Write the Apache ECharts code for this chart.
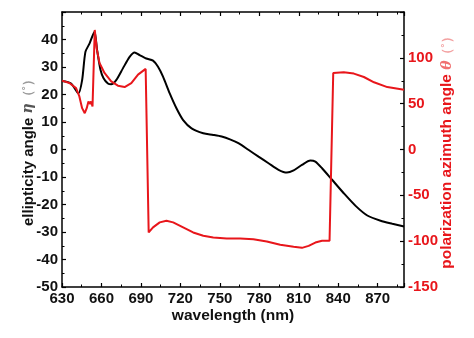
<!DOCTYPE html>
<html>
<head>
<meta charset="utf-8">
<script src="https://cdn.jsdelivr.net/npm/echarts@6/dist/echarts.min.js"></script>
<style>
  html, body { margin: 0; padding: 0; background: #fff; }
  #chart { width: 474px; height: 338px; }
</style>
</head>
<body>
<div id="chart"></div>
<script>
// Ellipticity angle (left axis, degrees) versus wavelength (nm)
const etaWavelength = [630, 636.9, 642.5, 645.3, 647.8, 650.9, 654.7, 656.7, 659.3, 661.6, 664.9, 667.4,
  671.2, 676.3, 681.4, 685.2, 689, 694.1, 699.2, 703, 706.8, 711.9, 717, 722.1, 728.5, 737.4, 745,
  751.4, 757.7, 764.1, 771.7, 779.4, 787, 794.6, 801, 806.1, 812.4, 818.8, 822.6, 827.7, 835.3,
  844.2, 853.2, 862.1, 872.2, 881.1, 890];
const eta = [24.9, 24.0, 20.4, 25.2, 35.5, 38.5, 42.8, 36.1, 28.9, 25.9, 24.0, 23.7,
  25.2, 29.5, 33.7, 35.3, 34.3, 33.1, 32.3, 30.1, 26.5, 20.4, 15.0, 10.7, 7.7, 5.9, 5.3,
  4.7, 3.7, 2.3, -0.1, -2.6, -5.0, -7.4, -8.4, -7.6, -5.6, -4.0, -4.4, -6.8, -11.0,
  -15.9, -20.5, -24.0, -25.9, -27.0, -28.0];

// Polarization azimuth angle (right axis, degrees) versus wavelength (nm)
const thetaWavelength = [630, 635.6, 640.7, 643.2, 645.3, 647.3, 648.8, 650.1, 651.4, 652.1, 653.2,
  654.9, 656.5, 658.5, 662.3, 667.4, 672.5, 677.6, 682.7, 687.8, 693.6, 694.1, 695.9, 699.2,
  704.3, 709.4, 714.5, 722.1, 729.7, 737.4, 745, 755.2, 765.4, 775.5, 785.7, 795.9, 806.1,
  812.4, 817.5, 822.6, 827.7, 833.4, 836.2, 844.2, 851.9, 859.5, 867.2, 877.3, 890];
const theta = [75.1, 72.5, 67, 57.9, 45.1, 39.6, 45.1, 52.4, 49.8, 52.4, 46.9,
  130.4, 109.2, 94.5, 83.5, 74.4, 69.6, 68.1, 72.5, 81.7, 87.9, 87.2, -90.5, -85,
  -79.5, -77.7, -79.5, -85, -90.5, -94.1, -96, -97.1, -97.1, -97.8, -100.4, -104, -106.2,
  -107.3, -105.1, -101.5, -99.6, -99.6, 83.5, 84.2, 82.8, 79.1, 73.3, 68.1, 65.2];

const xTicks = { min: 630, max: 890, interval: 30 };
const etaTicks = { min: -50, max: 50, interval: 10 };
const thetaTicks = { min: -150, max: 150, interval: 50 };

const RED = '#e8161b';
const FONT = 'Liberation Sans, Arial, sans-serif';

const pairs = (xs, ys) => xs.map((x, i) => [x, ys[i]]);

const frameLine = { show: true, onZero: false, lineStyle: { color: '#000', width: 1.5 } };
const tickIn = { show: true, inside: true, length: 4, lineStyle: { color: '#000', width: 1.2 } };
const minorIn = { show: true, splitNumber: 2, length: 2.5, lineStyle: { color: '#000', width: 1 } };
const labelStyle = { fontFamily: FONT, fontWeight: 'bold', fontSize: 15, color: '#111' };

const chart = echarts.init(document.getElementById('chart'), null, { renderer: 'canvas' });
chart.setOption({
  animation: false,
  backgroundColor: '#fff',
  grid: { left: 62, right: 70, top: 12, bottom: 51, containLabel: false },
  xAxis: [
    {
      type: 'value', position: 'bottom', ...xTicks,
      name: 'wavelength (nm)', nameLocation: 'middle', nameGap: 21, nameMoveOverlap: false,
      nameTextStyle: { ...labelStyle, fontSize: 15.5 },
      axisLine: frameLine, axisTick: tickIn, minorTick: minorIn,
      splitLine: { show: false },
      axisLabel: { ...labelStyle, margin: 4, showMaxLabel: false }
    },
    {
      type: 'value', position: 'top', ...xTicks,
      axisLine: frameLine, axisTick: tickIn, minorTick: minorIn,
      splitLine: { show: false }, axisLabel: { show: false }
    }
  ],
  yAxis: [
    {
      type: 'value', position: 'left', ...etaTicks,
      name: '{b|ellipticity angle }{g|η}{p|（˚）}', nameLocation: 'middle', nameGap: 26,
      nameRotate: 90, nameMoveOverlap: false,
      nameTextStyle: {
        ...labelStyle,
        rich: {
          b: { fontFamily: FONT, fontWeight: 'bold', fontSize: 15, color: '#111' },
          g: { fontFamily: 'DejaVu Serif', fontStyle: 'italic', fontSize: 14, color: '#555' },
          p: { fontFamily: FONT, fontSize: 13, color: '#999' }
        }
      },
      axisLine: frameLine, axisTick: tickIn, minorTick: minorIn,
      splitLine: { show: false },
      axisLabel: { ...labelStyle, margin: 4, showMaxLabel: false }
    },
    {
      type: 'value', position: 'right', ...thetaTicks,
      name: '{b|polarization azimuth angle }{g|θ}{p|（˚）}', nameLocation: 'middle', nameGap: 35,
      nameRotate: 90, nameMoveOverlap: false,
      nameTextStyle: {
        ...labelStyle, color: RED,
        rich: {
          b: { fontFamily: FONT, fontWeight: 'bold', fontSize: 15.5, color: RED },
          g: { fontFamily: 'DejaVu Serif', fontStyle: 'italic', fontSize: 14, color: '#f07070' },
          p: { fontFamily: FONT, fontSize: 13, color: '#f3a0a0' }
        }
      },
      axisLine: frameLine, axisTick: tickIn, minorTick: minorIn,
      splitLine: { show: false },
      axisLabel: { ...labelStyle, color: RED, margin: 4, showMaxLabel: false }
    }
  ],
  series: [
    {
      name: 'ellipticity', type: 'line', xAxisIndex: 0, yAxisIndex: 0,
      data: pairs(etaWavelength, eta), showSymbol: false, smooth: 0.25,
      lineStyle: { color: '#000', width: 2 }, z: 2
    },
    {
      name: 'azimuth', type: 'line', xAxisIndex: 0, yAxisIndex: 1,
      data: pairs(thetaWavelength, theta), showSymbol: false,
      lineStyle: { color: RED, width: 2 }, z: 3
    }
  ]
});
</script>
</body>
</html>
